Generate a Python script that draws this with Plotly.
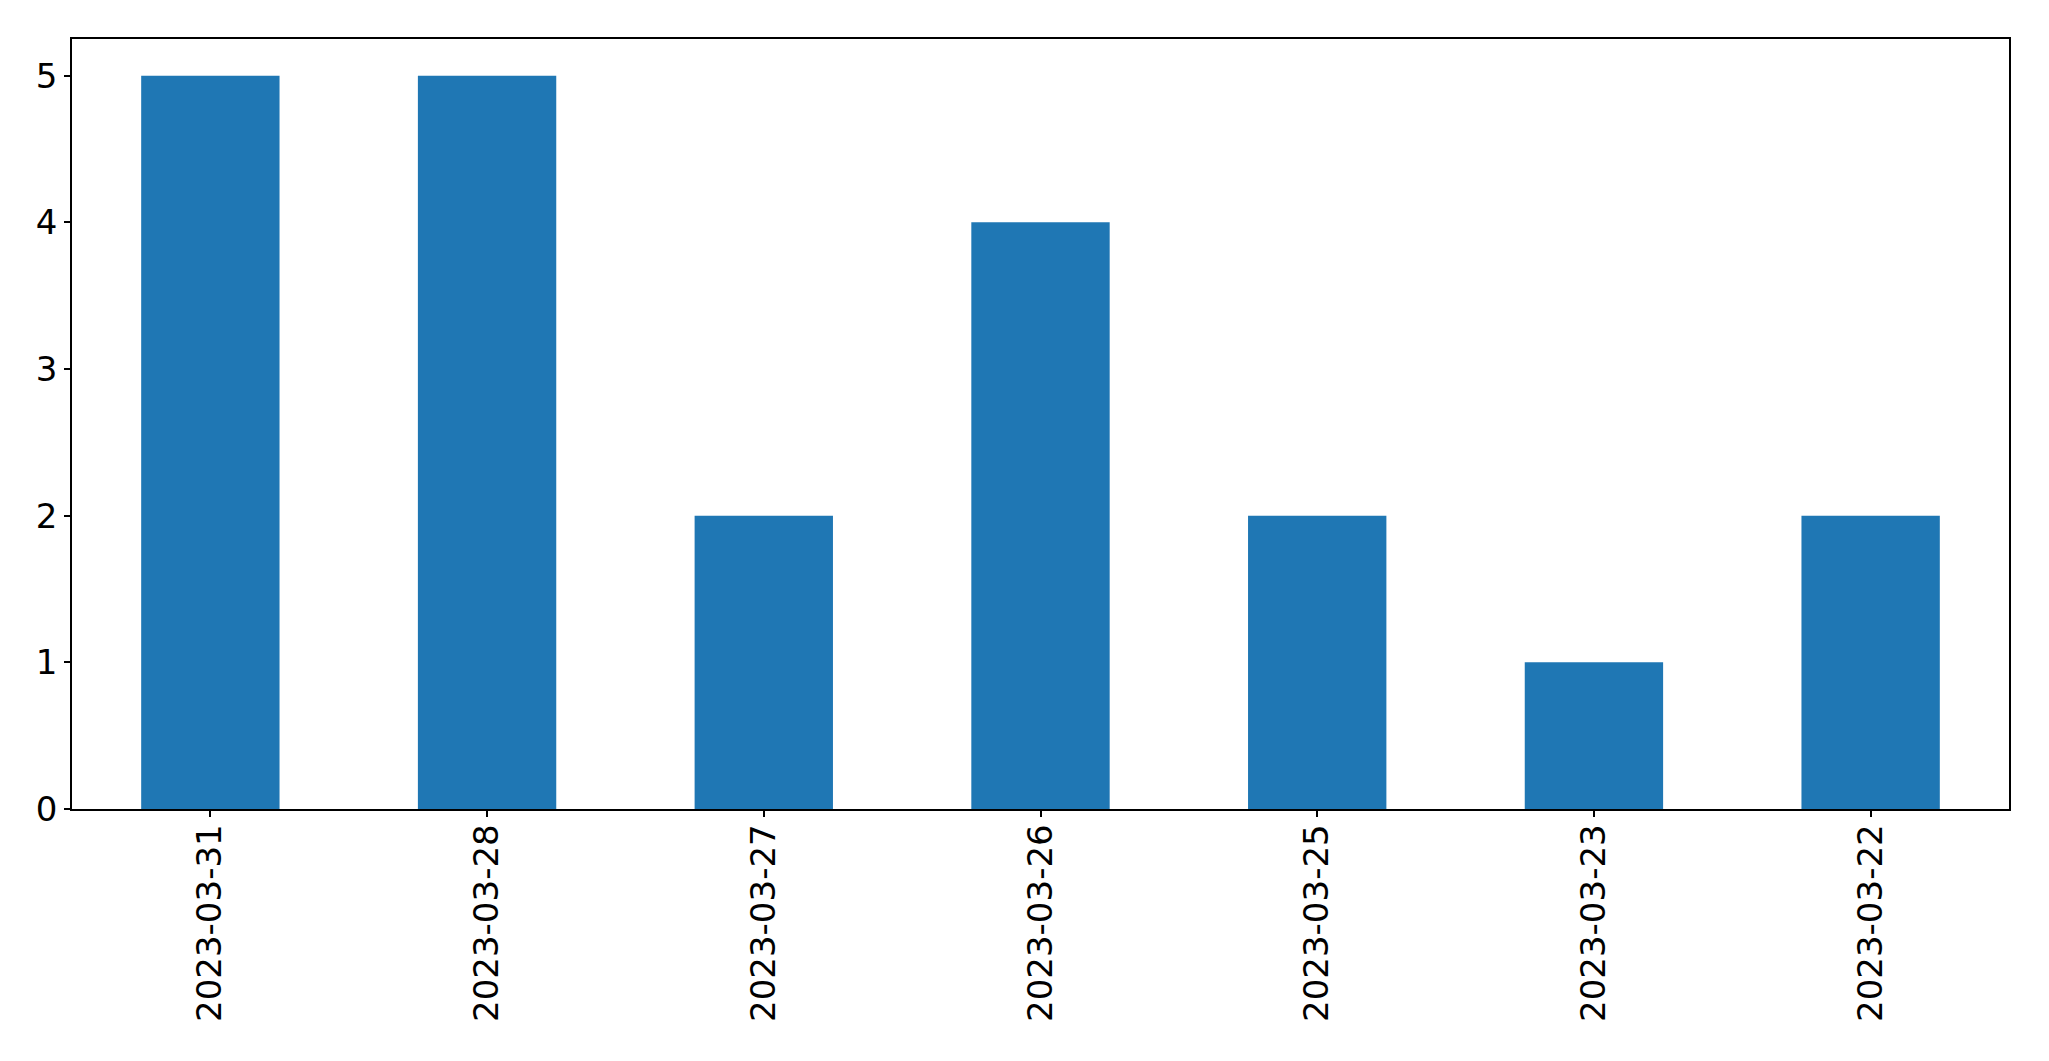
import plotly.graph_objects as go

categories = ["2023-03-31", "2023-03-28", "2023-03-27", "2023-03-26", "2023-03-25", "2023-03-23", "2023-03-22"]
values = [5, 5, 2, 4, 2, 1, 2]
y_ticks = [0, 1, 2, 3, 4, 5]

fig = go.Figure(go.Bar(x=categories, y=values, marker=dict(color="#1f77b4", line=dict(width=0)), width=0.5))

fig.update_layout(
    width=2033, height=1045,
    margin=dict(l=64, r=32, t=31, b=244),
    paper_bgcolor="white", plot_bgcolor="white",
    font=dict(family="DejaVu Sans", size=34, color="black"),
    showlegend=False,
)
fig.update_xaxes(
    type="category", range=[-0.5, len(categories) - 0.5],
    showline=True, linecolor="black", linewidth=1.5, mirror=True,
    ticks="outside", ticklen=6, tickwidth=1.5, tickcolor="black",
    tickangle=-90, showgrid=False, zeroline=False, automargin=False,
    ticklabelstandoff=-6,
    tickfont=dict(family="DejaVu Sans", size=34, color="black"),
)
fig.update_yaxes(
    range=[0, 5.25], tickvals=y_ticks,
    showline=True, linecolor="black", linewidth=1.5, mirror=True,
    ticks="outside", ticklen=6, tickwidth=1.5, tickcolor="black",
    showgrid=False, zeroline=False, automargin=False,
    tickfont=dict(family="DejaVu Sans", size=34, color="black"),
)
fig.write_html("out.html")
